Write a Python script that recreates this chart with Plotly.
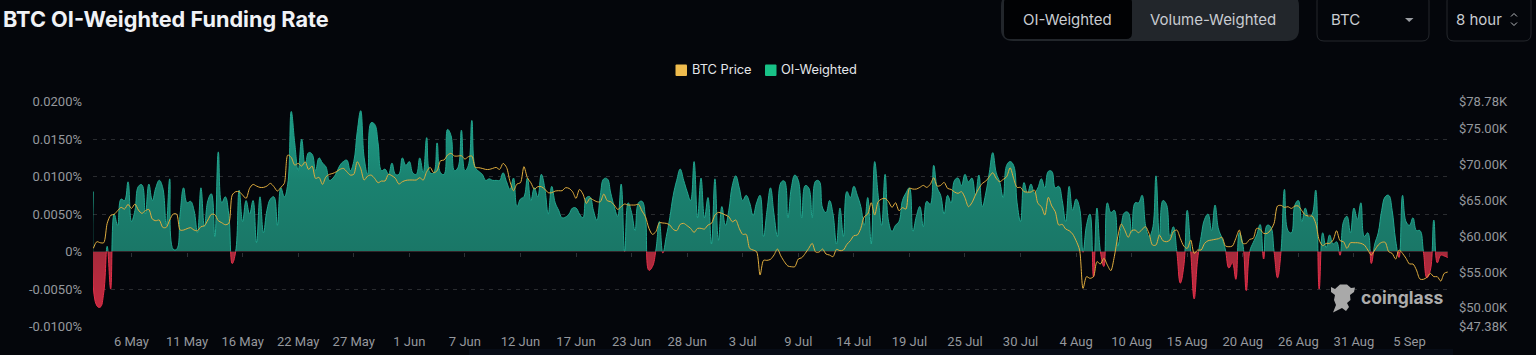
import pandas as pd
import plotly.graph_objects as go

W, H = 1536, 355

funding_rate = [
    .0080,-.0072,-.0074,-.0055,.0007,-.0050,.0050,.0035,.0070,.0068,
    .0093,.0040,.0055,.0087,.0089,.0050,.0090,.0068,.0085,.0095,
    .0085,.0035,.0097,.0003,.0003,.0050,.0085,.0065,.0067,.0055,
    .0025,.0085,.0033,.0068,.0077,.0020,.0133,.0065,.0073,.0050,
    -.0016,.0000,.0082,.0040,.0068,.0050,.0068,.0012,.0073,.0025,
    .0055,.0070,.0073,.0035,.0085,.0073,.0090,.0187,.0145,.0108,
    .0150,.0115,.0132,.0130,.0108,.0125,.0118,.0113,.0095,.0098,
    .0105,.0115,.0120,.0122,.0108,.0120,.0160,.0188,.0125,.0103,
    .0172,.0170,.0145,.0108,.0110,.0103,.0118,.0103,.0103,.0125,
    .0115,.0120,.0105,.0103,.0125,.0105,.0152,.0105,.0105,.0145,
    .0105,.0103,.0163,.0155,.0108,.0112,.0162,.0108,.0115,.0175,
    .0112,.0107,.0103,.0095,.0097,.0095,.0095,.0095,.0105,.0093,
    .0083,.0098,.0060,.0070,.0073,.0098,.0068,.0085,.0073,.0103,
    .0085,.0050,.0087,.0065,.0055,.0045,.0046,.0050,.0058,.0058,
    .0050,.0045,.0072,.0073,.0055,.0042,.0075,.0097,.0097,.0078,
    .0060,.0047,.0090,.0000,.0065,.0052,.0028,.0065,.0067,.0045,
    -.0025,-.0020,.0002,.0040,-.0002,.0020,.0045,.0075,.0095,.0110,
    .0095,.0080,.0068,.0120,.0045,.0098,.0045,.0072,.0010,.0097,
    .0015,.0060,.0035,.0055,.0088,.0101,.0085,.0068,.0075,.0065,
    .0048,.0065,.0075,.0020,.0055,.0085,.0050,.0020,.0092,.0094,
    .0045,.0085,.0102,.0095,.0045,.0088,.0085,.0045,.0094,.0094,
    .0058,.0052,.0068,.0050,.0010,.0058,.0020,.0080,.0072,.0087,
    .0075,.0060,.0035,.0072,.0010,.0120,.0075,.0035,.0103,.0040,
    .0027,.0035,.0040,.0068,.0078,.0085,.0027,.0047,.0060,.0033,
    .0067,.0063,.0115,.0085,.0075,.0050,.0075,.0065,.0095,.0098,
    .0088,.0103,.0093,.0098,.0075,.0102,.0060,.0078,.0105,.0132,
    .0105,.0093,.0072,.0115,.0120,.0115,.0065,.0040,.0092,.0078,
    .0090,.0078,.0085,.0097,.0085,.0107,.0107,.0085,.0087,.0068,
    .0040,.0087,.0055,.0070,.0058,-.0001,.0035,.0050,-.0034,.0058,
    .0000,-.0020,.0065,.0052,.0055,.0007,.0035,.0052,.0052,.0025,
    .0065,.0065,.0075,.0035,.0020,.0030,.0101,.0020,.0068,.0063,
    .0020,.0033,.0000,-.0042,-.0020,.0055,.0000,-.0063,-.0010,.0020,
    .0043,.0050,.0028,.0062,.0030,.0018,.0002,-.0022,-.0015,-.0037,
    .0025,.0010,-.0052,.0000,.0012,.0022,.0036,-.0010,.0035,.0033,
    .0000,-.0035,.0000,.0083,.0028,.0025,.0062,.0068,.0040,.0058,
    .0045,.0050,.0082,-.0050,.0025,.0005,.0022,.0010,.0013,-.0005,
    .0040,.0047,.0025,.0058,.0043,.0065,.0020,.0025,-.0016,.0010,
    .0025,.0055,.0073,.0075,.0055,.0015,-.0008,.0075,.0040,.0035,
    .0045,.0028,.0028,.0000,-.0035,-.0025,.0042,-.0015,-.0005,-.0006,-.0008,
]

btc_price_k = [
    58.31,59.24,59.10,59.10,61.80,62.92,63.06,63.57,64.03,63.80,
    64.45,63.89,64.50,63.66,63.20,63.57,63.75,62.40,62.17,62.27,
    61.24,61.24,62.27,63.10,63.10,60.87,60.87,61.06,61.20,60.87,
    60.78,61.33,61.47,62.27,63.06,63.01,62.17,61.89,61.61,61.80,
    65.75,66.22,66.22,65.75,65.29,66.68,67.24,67.01,66.82,66.82,
    67.01,67.38,66.92,66.31,66.82,67.38,71.33,71.01,69.94,70.17,
    69.80,70.40,69.33,69.80,68.08,68.22,67.24,68.31,68.64,68.78,
    69.01,69.33,69.47,69.01,68.54,68.64,70.40,69.47,67.85,68.40,
    68.54,68.08,67.47,67.71,67.71,68.64,68.45,68.08,67.29,67.61,
    67.80,67.85,67.85,67.85,68.17,67.85,69.01,69.61,68.87,69.15,
    70.54,70.64,71.33,71.57,71.20,71.20,71.24,70.78,71.10,71.20,
    69.61,69.57,69.47,69.33,69.33,69.47,69.61,69.33,70.17,69.61,
    67.61,66.36,67.29,67.47,69.71,68.17,67.47,66.59,66.92,66.92,
    66.59,66.08,66.08,66.31,66.36,66.36,66.78,66.68,66.22,65.29,
    66.54,65.89,64.59,65.29,65.06,64.82,64.82,65.89,64.96,64.82,
    64.36,63.75,64.13,64.50,64.36,64.36,64.36,64.45,63.52,62.73,
    61.10,60.27,60.64,61.89,61.85,61.80,61.57,60.96,60.78,61.66,
    61.80,61.47,61.10,60.54,61.10,61.10,61.01,61.57,61.80,62.96,
    63.33,63.20,62.96,62.73,62.03,62.27,61.10,60.27,60.27,58.31,
    58.08,57.85,54.59,56.64,56.64,56.78,57.38,58.22,57.24,56.45,
    55.85,55.75,55.75,56.82,57.01,57.61,58.31,59.01,57.80,57.80,
    58.22,57.52,57.38,57.15,58.17,57.99,58.08,58.87,59.38,60.08,
    60.17,61.10,62.73,63.10,64.68,62.96,64.82,65.20,65.29,64.82,
    64.03,64.68,63.57,63.99,63.80,66.68,66.59,66.59,66.82,67.10,
    66.82,67.24,68.17,67.01,67.10,67.52,66.68,66.54,66.17,65.99,
    66.22,65.38,64.13,64.68,65.75,66.68,67.38,67.71,68.31,68.87,
    68.08,67.61,67.94,68.31,69.57,68.08,66.82,66.82,66.22,66.17,
    66.17,66.45,64.59,64.13,62.96,65.43,64.22,63.43,61.57,61.66,
    61.01,60.78,60.31,59.38,58.08,52.73,54.36,54.13,54.36,56.45,
    56.13,56.92,55.99,55.20,57.15,59.94,61.71,60.87,59.85,60.78,
    60.87,60.50,60.96,61.33,60.40,58.78,58.78,60.17,59.38,59.24,
    59.47,60.64,60.87,59.71,58.64,58.31,59.47,57.61,58.08,58.08,
    59.01,59.38,59.47,59.57,59.66,59.85,58.64,58.54,58.64,59.71,
    60.87,59.01,59.01,59.57,59.71,61.10,60.96,60.40,60.40,60.87,
    61.80,64.22,64.31,64.03,64.13,63.89,64.22,64.22,63.57,62.96,
    62.82,62.82,61.80,59.47,58.68,59.01,59.01,59.47,60.78,59.38,
    59.24,58.31,59.10,59.10,59.10,59.01,58.78,58.08,57.38,58.08,
    58.78,59.15,59.15,57.85,57.61,56.82,58.08,57.61,56.92,56.13,
    56.13,55.29,54.03,53.99,54.27,54.82,54.36,54.36,53.75,54.82,55.01,
]

x_tick_labels = ["6 May","11 May","16 May","22 May","27 May","1 Jun","7 Jun","12 Jun",
                 "17 Jun","23 Jun","28 Jun","3 Jul","9 Jul","14 Jul","19 Jul","25 Jul",
                 "30 Jul","4 Aug","10 Aug","15 Aug","20 Aug","26 Aug","31 Aug","5 Sep"]
rate_ticks_up = [0, 0.005, 0.01, 0.015, 0.02]
rate_labels_up = ["0%", "0.0050%", "0.0100%", "0.0150%", "0.0200%"]
rate_ticks_down = [-0.005, -0.01]
rate_labels_down = ["-0.0050%", "-0.0100%"]
price_ticks = [47.38, 50, 55, 60, 65, 70, 75, 78.78]
price_labels = ["$47.38K","$50.00K","$55.00K","$60.00K","$65.00K","$70.00K","$75.00K","$78.78K"]

dates = pd.date_range("2024-05-02 08:00", periods=len(funding_rate), freq="8h")
tick_dates = pd.date_range("2024-05-06 00:00", periods=len(x_tick_labels), freq="128h")
x_range = [dates[0] - pd.Timedelta(minutes=40), dates[-1] + pd.Timedelta(hours=3)]

BG = "#04060b"
GRID = "#2a2c30"
LABEL = "#95989d"
GOLD = "#e0ad3f"

def px(x): return x / W
def py(y): return 1 - y / H

TOP, ZERO, BOT = 101.7, 251.5, 326.7
X_DOM = [px(93), px(1449)]

fig = go.Figure()
fig.add_trace(go.Scatter(
    x=dates, y=funding_rate, xaxis="x", yaxis="y", mode="lines", name="OI-Weighted",
    line=dict(color="#22a68f", width=1, shape="spline", smoothing=1.2),
    fill="tozeroy",
    fillgradient=dict(type="vertical", start=0, stop=0.019,
                      colorscale=[[0, "#1a7767"], [0.5, "#1a8270"], [1, "#1f9c87"]]),
    showlegend=False, hoverinfo="skip"))
fig.add_trace(go.Scatter(
    x=dates, y=funding_rate, xaxis="x2", yaxis="y2", mode="lines", name="OI-Weighted negative",
    line=dict(color="#e5304a", width=1, shape="spline", smoothing=1.2),
    fill="tozeroy",
    fillgradient=dict(type="vertical", start=0, stop=-0.0075,
                      colorscale=[[0, "#a62a3b"], [1, "#c42a40"]]),
    showlegend=False, hoverinfo="skip"))
fig.add_trace(go.Scatter(
    x=dates, y=btc_price_k, xaxis="x2", yaxis="y3", mode="lines", name="BTC Price",
    line=dict(color=GOLD, width=1, shape="spline", smoothing=0.8),
    showlegend=False, hoverinfo="skip"))

tickfont = dict(family="Roboto, sans-serif", size=13, color=LABEL)
shapes, annotations = [], []

def rect(x0, y0, x1, y1, fill, line=None, r=0):
    if r:
        p = (f"M {px(x0+r)} {py(y0)} L {px(x1-r)} {py(y0)} Q {px(x1)} {py(y0)} {px(x1)} {py(y0+r)} "
             f"L {px(x1)} {py(y1-r)} Q {px(x1)} {py(y1)} {px(x1-r)} {py(y1)} "
             f"L {px(x0+r)} {py(y1)} Q {px(x0)} {py(y1)} {px(x0)} {py(y1-r)} "
             f"L {px(x0)} {py(y0+r)} Q {px(x0)} {py(y0)} {px(x0+r)} {py(y0)} Z")
        shapes.append(dict(type="path", xref="paper", yref="paper", path=p, fillcolor=fill,
                           line=dict(color=line or fill, width=1 if line else 0), layer="below"))
    else:
        shapes.append(dict(type="rect", xref="paper", yref="paper", x0=px(x0), x1=px(x1),
                           y0=py(y0), y1=py(y1), fillcolor=fill, line=dict(width=0), layer="below"))

def label(x, y, text, size=14, color="#d8dade", anchor="center", family="Inter, sans-serif", weight=None):
    font = dict(family=family, size=size, color=color)
    if weight:
        font["weight"] = weight
    annotations.append(dict(x=px(x), y=py(y), xref="paper", yref="paper", text=text, showarrow=False,
                            xanchor=anchor, yanchor="middle", font=font, borderpad=0, borderwidth=0))

# header
label(3, 19, "BTC OI-Weighted Funding Rate", size=21.7, color="#f0f2f6", anchor="left", weight=700)
rect(1001, -6, 1299, 41, "#22262b", r=12)
rect(1004, -3, 1132, 39, "#010204", r=6)
label(1067, 19.5, "OI-Weighted", size=15, color="#c9ccd1")
label(1213, 19.5, "Volume-Weighted", size=15, color="#c9ccd1")
rect(1317, -6, 1429, 41, BG, line="#24272c", r=7)
label(1345, 19.5, "BTC", size=15, color="#c9ccd1")
rect(1447, -6, 1531, 41, BG, line="#24272c", r=7)
label(1479, 19.5, "8 hour", size=15, color="#c9ccd1")
shapes.append(dict(type="path", xref="paper", yref="paper", fillcolor="#9a9da2", line=dict(width=0),
                   path=f"M {px(1405)} {py(18)} L {px(1413.5)} {py(18)} L {px(1409.2)} {py(22)} Z"))
for a, b in ((16.5, 13.5), (22.5, 25.5)):
    shapes.append(dict(type="path", xref="paper", yref="paper", line=dict(color="#b5b8bc", width=1),
                       path=f"M {px(1511)} {py(a)} L {px(1514)} {py(b)} L {px(1517)} {py(a)}"))

# legend
rect(675.5, 64.5, 687, 76, "#eebb4d", r=1)
label(692, 70, "BTC Price", size=12.8, color="#e4e6ea", anchor="left")
rect(765, 64.5, 776.5, 76, "#18c287", r=1)
label(781, 70, "OI-Weighted", size=12.8, color="#e4e6ea", anchor="left")

# watermark
bull = [(1331,287),(1335,289),(1340,284.5),(1347,284.5),(1351,288),(1355,287.5),(1354,292),(1350,295),
        (1350.5,300),(1347,303),(1349,307),(1346,311),(1342,308),(1338,310),(1333,312.5),(1336,305),
        (1334,300),(1335,295),(1331,292)]
shapes.append(dict(type="path", xref="paper", yref="paper", fillcolor="#a9a9a9", line=dict(width=0),
                   path="M " + " L ".join(f"{px(a)} {py(b)}" for a, b in bull) + " Z"))
label(1361, 297, "coinglass", size=17.5, color="#acacac", anchor="left", weight=700)

# faint strip along the bottom edge
rect(469, 349, 1453, 355, "#070c16")

fig.update_layout(
    width=W, height=H, margin=dict(l=0, r=0, t=0, b=0), autosize=False,
    paper_bgcolor=BG, plot_bgcolor="rgba(0,0,0,0)", showlegend=False,
    shapes=shapes, annotations=annotations,
    xaxis=dict(domain=X_DOM, range=x_range, anchor="y", type="date", automargin=False,
               tickvals=tick_dates, ticktext=[""] * len(tick_dates), ticks="outside", ticklen=4,
               tickcolor="#2d3035", showgrid=False, zeroline=False, showline=False),
    xaxis2=dict(domain=X_DOM, range=x_range, anchor="y2", type="date", automargin=False,
                tickvals=tick_dates, ticktext=x_tick_labels, ticks="", ticklabelstandoff=5,
                tickfont=tickfont, showgrid=False, zeroline=False, showline=False),
    yaxis=dict(domain=[py(ZERO), py(TOP)], range=[0, 0.02], anchor="x", tickvals=rate_ticks_up,
               ticktext=rate_labels_up, tickfont=tickfont, showgrid=True, gridcolor=GRID, automargin=False,
               griddash="4px,5px", gridwidth=1, zeroline=False, showline=False, ticklabelstandoff=10),
    yaxis2=dict(domain=[py(BOT), py(ZERO)], range=[-0.01, 0], anchor="x2", tickvals=rate_ticks_down,
                ticktext=rate_labels_down, tickfont=tickfont, showgrid=True, gridcolor=GRID, automargin=False,
                griddash="4px,5px", gridwidth=1, zeroline=False, showline=False, ticklabelstandoff=10),
    yaxis3=dict(domain=[py(BOT), py(TOP)], range=[47.38, 78.78], anchor="free", position=X_DOM[1],
                side="right", tickvals=price_ticks, ticktext=price_labels, tickfont=tickfont, automargin=False,
                showgrid=False, zeroline=False, showline=False, ticklabelstandoff=9),
)

fig.write_html("out.html", config={"displayModeBar": False},
               post_script="document.body.style.margin='0';document.body.style.background='%s';" % BG)
